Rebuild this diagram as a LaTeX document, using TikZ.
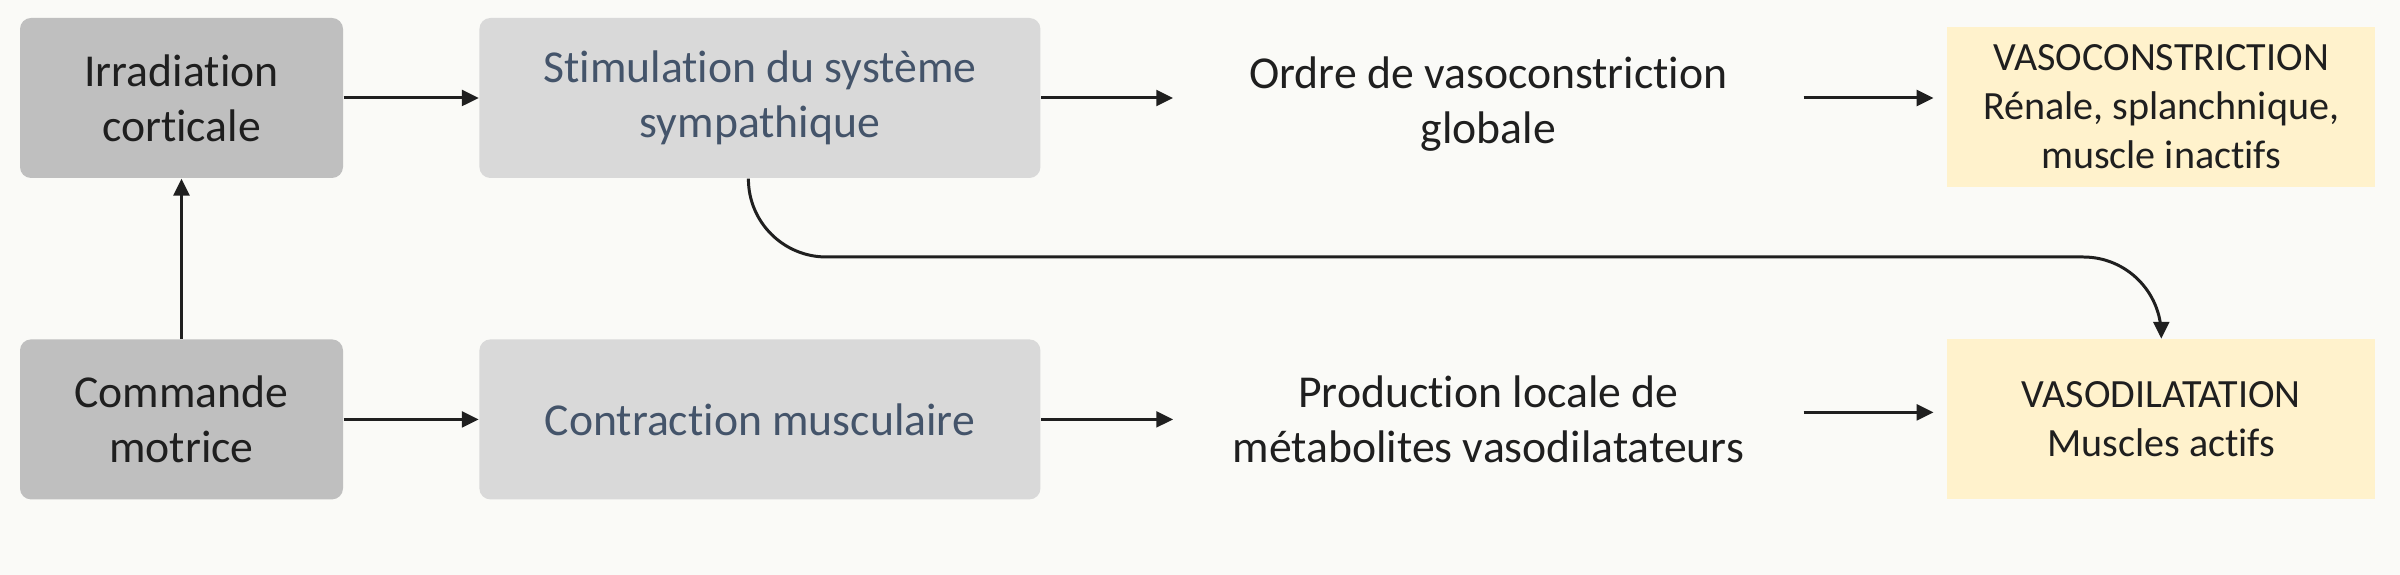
\documentclass[tikz,border=0pt]{standalone}
\usepackage{fontspec}
\setmainfont{Carlito}[Ligatures=NoCommon]
\usetikzlibrary{positioning,arrows.meta}
\definecolor{fond}{HTML}{FAFAF7}
\definecolor{grisfonce}{HTML}{BFBFBF}
\definecolor{grisclair}{HTML}{D9D9D9}
\definecolor{jaune}{HTML}{FFF2CC}
\definecolor{bleu}{HTML}{44546A}
\definecolor{texte}{HTML}{1F1F1F}

\begin{document}
\begin{tikzpicture}
        \tikzstyle{every node}=[inner sep=0pt, align=center, text=texte, font=\fontsize{13}{15.6}\selectfont]
        \tikzstyle{boite}=[rounded corners=0.11cm, minimum height=1.60cm]
        \tikzstyle{cortex}=[boite, fill=grisfonce, minimum width=3.23cm]
        \tikzstyle{effet}=[boite, fill=grisclair, minimum width=5.61cm, text=bleu]
        \tikzstyle{ordre}=[minimum width=6.29cm, minimum height=1.60cm]
        \tikzstyle{reponse}=[fill=jaune, minimum width=4.28cm, minimum height=1.60cm, font=\fontsize{11.4}{13.9}\selectfont]
        \tikzstyle{fleche}=[-{Triangle[length=4.8pt,width=4.5pt]}, line width=0.85pt, draw=texte]

        \fill[fond] (0,0) rectangle (24,5.75);
        \useasboundingbox (0,0) rectangle (24,5.75);

        \node (irr)   [cortex] at (1.815,4.77) {Irradiation\\corticale};
        \node (stim)  [effet, right=1.35cm of irr] {Stimulation du système\\sympathique};
        \node (ordre) [ordre, right=1.32cm of stim, yshift=-0.06cm] {Ordre de vasoconstriction\\globale};
        \node (vasoc) [reponse, right=1.43cm of stim.east -| ordre.east, yshift=-0.09cm] {VASOCONSTRICTION\\Rénale, splanchnique,\\muscle inactifs};

        \node (cmd)   [cortex, below=1.60cm of irr] {Commande\\motrice};
        \node (contr) [effet, right=1.35cm of cmd] {Contraction musculaire};
        \node (prod)  [ordre, right=1.32cm of contr] {Production locale de\\métabolites vasodilatateurs};
        \node (vasod) [reponse, right=1.43cm of prod] {VASODILATATION\\Muscles actifs};

        \draw[fleche] (irr.east) -- (stim.west |- irr.east);
        \draw[fleche] (stim.east) -- (stim.east -| ordre.west);
        \draw[fleche, shorten >=0.13cm] (stim.east -| ordre.east) -- (stim.east -| vasoc.west);
        \draw[fleche] (cmd) -- (irr);
        \draw[fleche] (cmd) -- (contr);
        \draw[fleche] (contr) -- (prod);
        \draw[fleche, shorten >=0.13cm] ([yshift=0.07cm]prod.east) -- ([yshift=0.07cm]prod.east -| vasod.west);

        \coordinate (coude) at (vasod.north |- 0,3.18);
        \draw[fleche, rounded corners=0.78cm] ([xshift=-0.115cm]stim.south) |- (coude) -- (vasod.north);

    \end{tikzpicture}
\end{document}
